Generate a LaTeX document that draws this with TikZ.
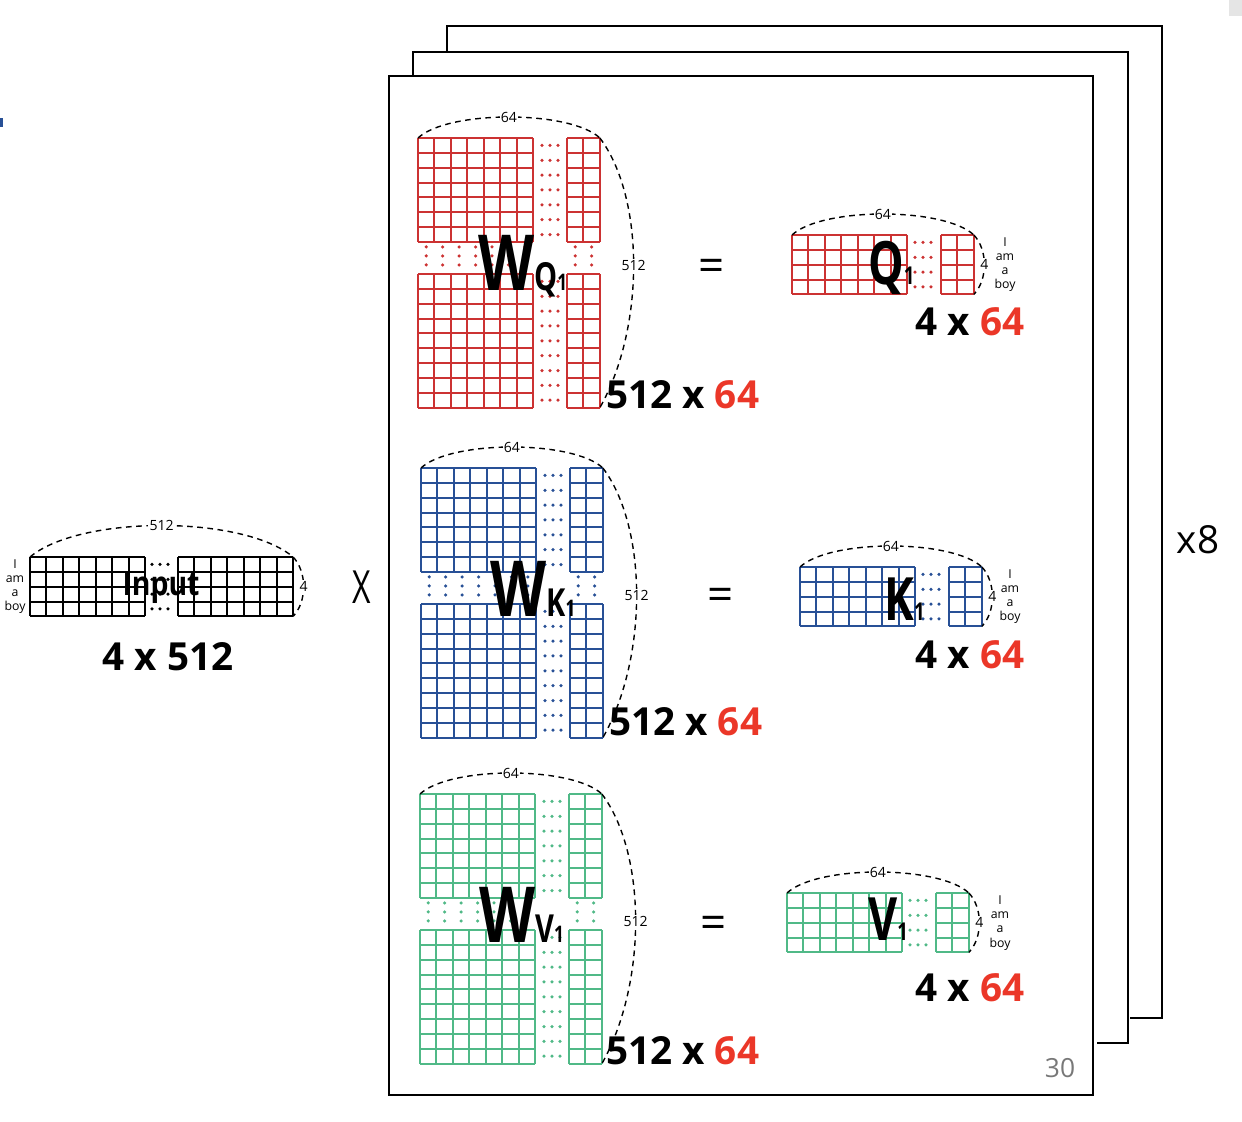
\documentclass[tikz,border=0pt]{standalone}
\usepackage{fontspec}
\setmainfont{Open Sans}
\usepackage{xcolor}
\usetikzlibrary{positioning}

\definecolor{qred}{RGB}{204,50,50}
\definecolor{kblue}{RGB}{40,80,150}
\definecolor{vgreen}{RGB}{80,185,135}
\definecolor{sizered}{RGB}{235,55,40}
\definecolor{pagegray}{RGB}{120,120,120}

\newcommand{\cw}{16.45}
\newcommand{\ch}{14.85}

% one block of cells: name, x, y, columns, rows, colour
\newcommand{\cellblock}[6]{%
  \foreach \i in {0,...,#4} \draw[cellline, #6] (#2+\i*\cw, #3) -- ++(0, #5*\ch);
  \foreach \j in {0,...,#5} \draw[cellline, #6] (#2, #3+\j*\ch) -- ++(#4*\cw, 0);
  \coordinate (#1-nw) at (#2, #3);
  \coordinate (#1-ne) at (#2+#4*\cw, #3);
  \coordinate (#1-sw) at (#2, #3+#5*\ch);
  \coordinate (#1-se) at (#2+#4*\cw, #3+#5*\ch);
}
% three dots per row between two blocks
\newcommand{\dotgap}[4]{%
  \foreach \j in {1,...,#3} \foreach \d in {0,8,16}
    \fill[#4] (#1+\d, #2+\j*\ch-0.5*\ch) circle[radius=1pt];
}
% three dots per column between upper and lower blocks
\newcommand{\dotband}[4]{%
  \foreach \i in {1,...,#3} \foreach \d in {5,14,23}
    \fill[#4] (#1+\i*\cw-0.5*\cw, #2+\d) circle[radius=1pt];
}
\newcommand{\weightmatrix}[4]{%
  \cellblock{#1-tl}{#2}{#3}{7}{7}{#4}
  \cellblock{#1-tr}{#2+149}{#3}{2}{7}{#4}
  \cellblock{#1-bl}{#2}{#3+136}{7}{9}{#4}
  \cellblock{#1-br}{#2+149}{#3+136}{2}{9}{#4}
  \dotgap{#2+124}{#3}{7}{#4}
  \dotgap{#2+124}{#3+136}{9}{#4}
  \dotband{#2}{#3+7*\ch}{7}{#4}
  \dotband{#2+149}{#3+7*\ch}{2}{#4}
}
\newcommand{\resultmatrix}[4]{%
  \cellblock{#1-l}{#2}{#3}{7}{4}{#4}
  \cellblock{#1-r}{#2+149}{#3}{2}{4}{#4}
  \dotgap{#2+123}{#3}{4}{#4}
}

\begin{document}
\begin{tikzpicture}[
    x=0.02cm, y=-0.02cm,
    cellline/.style={line width=1.15pt, line cap=square},
    dimarc/.style={dash pattern=on 3.2pt off 2.6pt, line width=0.8pt},
    dimlabel/.style={fill=white, inner sep=0.8pt, font=\fontsize{8}{9}\selectfont},
    sidewords/.style={align=center, inner sep=0pt, font=\fontsize{7}{8}\selectfont},
    sizelabel/.style={inner sep=0pt, font=\fontsize{22}{22}\selectfont\bfseries},
    handmark/.style={inner sep=0pt, xscale=0.75, font=\bfseries},
    page/.style={line width=1.4pt}
]
\useasboundingbox (0,0) rectangle (1242,1122);
\fill[kblue] (0,118) rectangle (3,127);
\fill[black!10] (1229,0) rectangle (1242,16);

% stacked pages
\draw[page] (447,52) -- (447,26) -- (1162,26) -- (1162,1018) -- (1130,1018);
\draw[page] (413,76) -- (413,52) -- (1128,52) -- (1128,1043) -- (1097,1043);
\draw[page] (389,76) rectangle (1093,1095);
\node (heads) at (1198,540) {\fontsize{22}{22}\selectfont x8};
\node[text=pagegray] (pageno) at (1060,1068) {\fontsize{15}{15}\selectfont 30};

% input
\cellblock{in-l}{30}{557}{7}{4}{black}
\cellblock{in-r}{178}{557}{7}{4}{black}
\dotgap{152}{557}{4}{black}
\draw[dimarc] (in-l-nw) .. controls +(50,-42) and +(-50,-42) .. (in-r-ne)
  node[dimlabel, pos=0.5] {512};
\draw[dimarc] (in-r-ne) .. controls +(14,15) and +(14,-15) .. (in-r-se)
  node[dimlabel, pos=0.5] {4};
\node[sidewords] (in-words) at (15,587) {I\\am\\a\\boy};
\node[inner sep=0pt, xscale=0.85, font=\fontsize{19}{19}\selectfont\bfseries] (in-name) at (161,588) {Input};
\node[sizelabel] (in-size) at (168,657) {4 x 512};
\node[xscale=0.7] (times) at (362,587) {\fontsize{26}{26}\selectfont X};

% query
\weightmatrix{wq}{418}{138}{qred}
\draw[dimarc] (wq-tl-nw) .. controls +(30,-28) and +(-30,-28) .. (wq-tr-ne)
  node[dimlabel, pos=0.5] {64};
\draw[dimarc] (wq-tr-ne) .. controls +(45,60) and +(45,-80) .. (wq-br-se)
  node[dimlabel, pos=0.5] {512};
\node[handmark, anchor=base west] (wq-name) at (478,291)
  {\fontsize{44}{44}\selectfont W\fontsize{22}{22}\selectfont Q\fontsize{13}{13}\selectfont 1};
\node[sizelabel, anchor=west] (wq-size) at (606,395) {512 x \textcolor{sizered}{64}};
\node (eq-q) at (712,270) {\fontsize{26}{26}\selectfont =};
\resultmatrix{q}{792}{235}{qred}
\draw[dimarc] (q-l-nw) .. controls +(30,-28) and +(-30,-28) .. (q-r-ne)
  node[dimlabel, pos=0.5] {64};
\draw[dimarc] (q-r-ne) .. controls +(14,15) and +(14,-15) .. (q-r-se)
  node[dimlabel, pos=0.5] {4};
\node[sidewords] (q-words) at (1005,265) {I\\am\\a\\boy};
\node[handmark, anchor=base west] (q-name) at (868,284)
  {\fontsize{34}{34}\selectfont Q\fontsize{14}{14}\selectfont 1};
\node[sizelabel] (q-size) at (970,322) {4 x \textcolor{sizered}{64}};

% key
\weightmatrix{wk}{421}{468}{kblue}
\draw[dimarc] (wk-tl-nw) .. controls +(30,-28) and +(-30,-28) .. (wk-tr-ne)
  node[dimlabel, pos=0.5] {64};
\draw[dimarc] (wk-tr-ne) .. controls +(45,60) and +(45,-80) .. (wk-br-se)
  node[dimlabel, pos=0.5] {512};
\node[handmark, anchor=base west] (wk-name) at (490,616)
  {\fontsize{44}{44}\selectfont W\fontsize{22}{22}\selectfont K\fontsize{13}{13}\selectfont 1};
\node[sizelabel, anchor=west] (wk-size) at (609,722) {512 x \textcolor{sizered}{64}};
\node (eq-k) at (721,599) {\fontsize{26}{26}\selectfont =};
\resultmatrix{k}{800}{567}{kblue}
\draw[dimarc] (k-l-nw) .. controls +(30,-28) and +(-30,-28) .. (k-r-ne)
  node[dimlabel, pos=0.5] {64};
\draw[dimarc] (k-r-ne) .. controls +(14,15) and +(14,-15) .. (k-r-se)
  node[dimlabel, pos=0.5] {4};
\node[sidewords] (k-words) at (1010,597) {I\\am\\a\\boy};
\node[handmark, anchor=base west] (k-name) at (884,620)
  {\fontsize{34}{34}\selectfont K\fontsize{14}{14}\selectfont 1};
\node[sizelabel] (k-size) at (970,655) {4 x \textcolor{sizered}{64}};

% value
\weightmatrix{wv}{420}{794}{vgreen}
\draw[dimarc] (wv-tl-nw) .. controls +(30,-28) and +(-30,-28) .. (wv-tr-ne)
  node[dimlabel, pos=0.5] {64};
\draw[dimarc] (wv-tr-ne) .. controls +(45,60) and +(45,-80) .. (wv-br-se)
  node[dimlabel, pos=0.5] {512};
\node[handmark, anchor=base west] (wv-name) at (479,942)
  {\fontsize{44}{44}\selectfont W\fontsize{22}{22}\selectfont V\fontsize{13}{13}\selectfont 1};
\node[sizelabel, anchor=west] (wv-size) at (606,1051) {512 x \textcolor{sizered}{64}};
\node (eq-v) at (714,927) {\fontsize{26}{26}\selectfont =};
\resultmatrix{v}{787}{893}{vgreen}
\draw[dimarc] (v-l-nw) .. controls +(30,-28) and +(-30,-28) .. (v-r-ne)
  node[dimlabel, pos=0.5] {64};
\draw[dimarc] (v-r-ne) .. controls +(14,15) and +(14,-15) .. (v-r-se)
  node[dimlabel, pos=0.5] {4};
\node[sidewords] (v-words) at (1000,923) {I\\am\\a\\boy};
\node[handmark, anchor=base west] (v-name) at (868,940)
  {\fontsize{34}{34}\selectfont V\fontsize{14}{14}\selectfont 1};
\node[sizelabel] (v-size) at (970,988) {4 x \textcolor{sizered}{64}};
\end{tikzpicture}
\end{document}
